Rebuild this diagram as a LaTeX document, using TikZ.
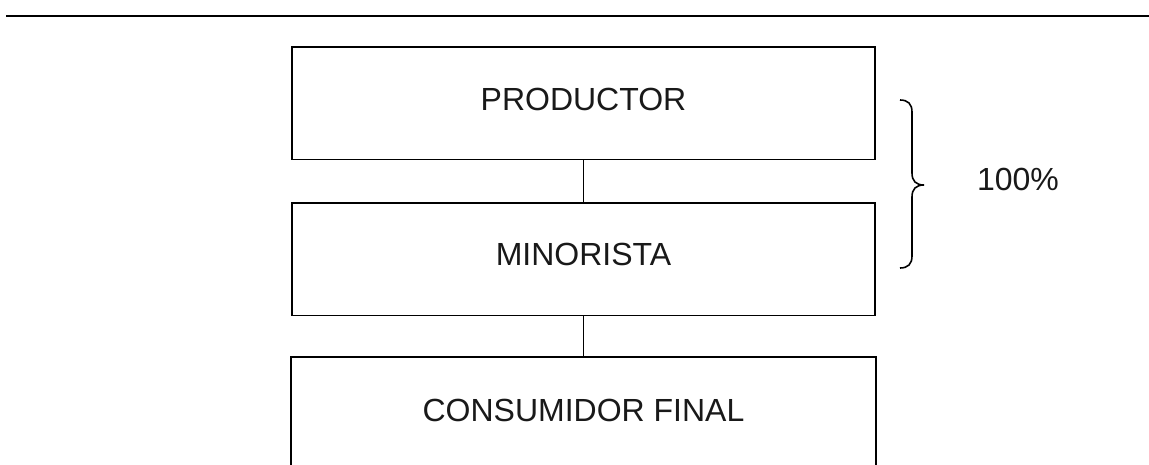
\documentclass[tikz,border=0pt]{standalone}
\usepackage{fontspec}
\setmainfont{Liberation Sans}
\begin{document}
\begin{tikzpicture}[x=1pt,y=-1pt,
  boxshape/.style={rectangle,inner sep=0pt,minimum width=583pt,minimum height=112.5pt,line width=1.6pt},
  boxtext/.style={inner sep=0pt,font=\fontsize{32pt}{38pt}\selectfont,text=black!90},
  conn/.style={line width=1.6pt},
  rule/.style={line width=2.2pt}]
\useasboundingbox[fill=white] (0,0) rectangle (1149,465);
\coordinate (ruleL) at (6,15.7);
\coordinate (ruleR) at (1149,15.7);
\draw[rule] (ruleL) -- (ruleR);
\node[boxshape,draw] (prod) at (583.5,103.25) {};
\node[boxshape,draw] (mino) at (583.5,259.25) {};
\node[boxshape,minimum height=120pt] (cons) at (583.5,418) {};
\draw[conn] (cons.south west) -- (cons.north west) -- (cons.north east) -- (cons.south east);
\node[boxtext] (prodt) at ([yshift=-53.5pt]prod.north) {PRODUCTOR};
\node[boxtext] (minot) at ([yshift=-52.5pt]mino.north) {MINORISTA};
\node[boxtext] (const) at ([yshift=-53pt]cons.north) {CONSUMIDOR FINAL};
\draw[conn] (prod.south) -- (mino.north);
\draw[conn] (mino.south) -- (cons.north);
\draw[line width=1.6pt] (900,100) .. controls (908,100) and (912,104) .. (912,112) -- (912,173)
  .. controls (912,181) and (916,185) .. (924,185)
  .. controls (916,185) and (912,189) .. (912,197) -- (912,256)
  .. controls (912,264) and (908,268) .. (900,268);
\node[boxtext] (pct) at (1018,179) {100\%};
\end{tikzpicture}
\end{document}
